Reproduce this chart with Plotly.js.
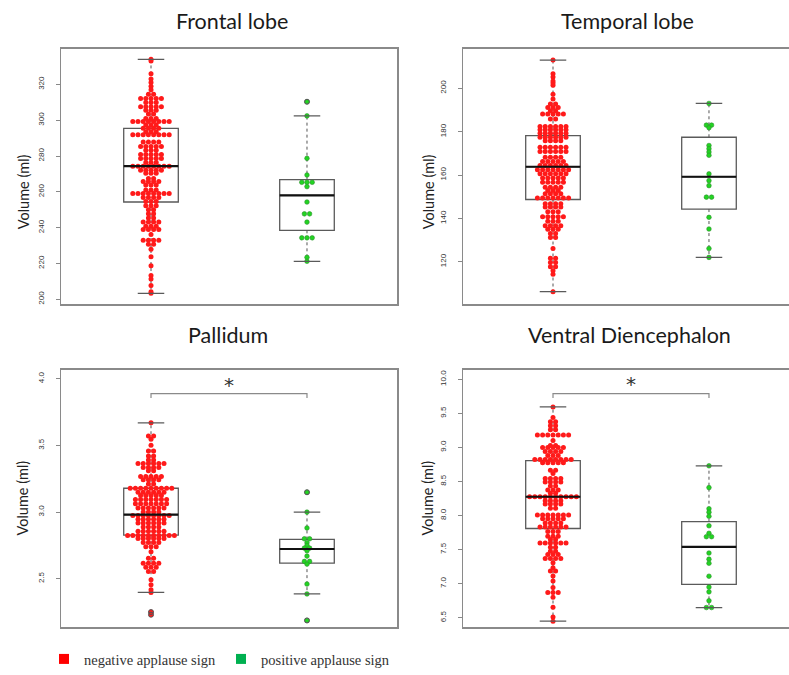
<!DOCTYPE html>
<html><head><meta charset="utf-8">
<script src="https://cdn.plot.ly/plotly-3.0.1.min.js"></script>
<style>html,body{margin:0;padding:0;background:#fff}#chart{width:789px;height:675px}</style>
</head><body><div id="chart"></div>
<script>
// ---------- data ----------
const groupNames = ['negative applause sign', 'positive applause sign'];
const panelTitles = ['Frontal lobe', 'Temporal lobe', 'Pallidum', 'Ventral Diencephalon'];

const frontalNeg = [334,333,326,323,321,319,317,314.5,314.5,312.1,312.1,312.1,312.1,312.1,309.9,309.9,309.9,
 307.5,307.5,307.5,307.5,307.5,305.6,305.6,305.6,303.4,303.4,301,301,301,
 299.2,299.2,299.2,299.2,299.2,299.2,299.2,299.2,297.3,297.3,297.3,295.5,295.5,295.5,295.5,293.6,293.6,293.6,
 291.8,291.8,291.8,291.8,291.8,291.8,291.8,291.8,287.8,287.8,287.8,287.8,285.3,285.3,285.3,285.3,285.3,
 283.2,283.2,283.2,280.8,280.8,280.8,280.8,280.8,278.6,278.6,278.6,278.6,278.6,276.4,276.4,276.4,
 274.3,274.3,274.3,274.3,274.3,274.3,274.3,274.3,272.1,272.1,272.1,272.1,272.1,270.3,270.3,270.3,267.5,267.5,
 265.7,265.7,265.7,265.7,263.8,263.8,263.8,261,261,261,259,259,259,259,259,259,259,259,
 256.8,256.8,256.8,256.8,254.6,254.6,254.6,252.2,252.2,252.2,250,250,247.8,247.8,245.4,245.4,
 243.2,243.2,243.2,243.2,240.8,240.8,240.8,239,239,239,239,236.2,232.9,232.9,232.9,232.9,230.7,230.7,
 227.9,223.7,218.7,213.2,211.3,207.7,204.2,203.3];
const frontalPos = [310.3,302.4,278.7,269.4,265.3,265.3,265.3,262.9,254.3,247.7,247.7,243.1,234.3,234.3,234.3,223.4,221.2];

const temporalNeg = [213,206.7,205.2,203.4,202.4,201.4,197.2,195,192.7,192.7,191.1,191.1,191.1,189.6,189.6,
 188.1,188.1,188.1,188.1,188.1,185.8,185.8,182.4,182.4,182.4,182.4,182.4,182.4,180.9,180.9,180.9,180.9,180.9,180.9,
 179.2,179.2,179.2,179.2,179.2,179.2,177.4,177.4,177.4,177.4,177.4,177.4,175.8,175.8,175.8,175.8,
 172.8,172.8,172.8,172.8,172.8,172.8,170.8,170.8,170.8,170.8,170.8,170.8,168.2,168.2,168.2,168.2,
 166.2,166.2,166.2,166.2,166.2,164.4,164.4,164.4,164.4,164.4,164.4,162.4,162.4,162.4,162.4,162.4,162.4,162.4,
 160.6,160.6,160.6,160.6,160.6,160.6,158.6,158.6,158.6,158.6,158.6,156.7,156.7,156.7,156.7,156.7,
 154.4,154.4,154.4,154.4,152.9,152.9,152.9,151.4,151.4,151.4,151.4,149.4,149.4,149.4,149.4,149.4,149.4,149.4,
 146.8,146.8,146.8,146.8,145.3,145.3,145.3,145.3,143,143,143,140.7,140.7,140.7,140.7,140.7,138.7,138.7,138.7,
 136.6,136.6,136.6,136.6,135,135,135,133,133,131.2,131.2,126.1,121.6,121.6,119.7,119.7,117.7,117.7,115.9,114.2,106.2];
const temporalPos = [193,183,183,181.8,173.6,172.1,170.6,169.1,160.5,157.4,155.1,149.8,149.8,140.5,135.1,126.1,122];

const pallidumNeg = [3.67,3.571,3.571,3.546,3.501,3.459,3.459,3.422,3.422,3.392,3.392,
 3.365,3.365,3.365,3.365,3.365,3.365,3.335,3.335,3.335,3.335,3.31,3.31,3.268,3.268,3.268,3.268,3.268,
 3.243,3.243,3.243,3.243,3.211,3.211,3.179,3.179,3.179,3.179,3.179,3.179,3.179,3.179,3.179,
 3.149,3.149,3.149,3.149,3.149,3.149,3.124,3.124,3.124,3.124,3.124,3.094,3.094,3.094,3.094,3.094,3.094,3.094,
 3.062,3.062,3.062,3.062,3.062,3.062,3.062,3.03,3.03,3.03,3.03,3.03,3.03,3.0,3.0,3.0,3.0,
 2.975,2.975,2.975,2.975,2.975,2.975,2.975,2.975,2.946,2.946,2.946,2.946,2.946,2.946,2.918,2.918,2.918,2.918,2.918,2.918,
 2.888,2.888,2.888,2.888,2.856,2.856,2.856,2.856,2.856,2.856,2.824,2.824,2.824,2.824,2.824,2.824,2.824,2.824,2.824,2.824,
 2.802,2.802,2.802,2.802,2.802,2.802,2.772,2.772,2.772,2.772,2.74,2.74,2.74,2.702,2.653,2.653,
 2.616,2.616,2.616,2.616,2.586,2.586,2.586,2.554,2.554,2.492,2.455,2.417,2.397,2.25,2.23];
const pallidumPos = [3.149,3.0,2.881,2.8,2.8,2.77,2.75,2.73,2.73,2.71,2.67,2.63,2.63,2.61,2.46,2.386,2.187];

const ventralNeg = [9.594,9.439,9.376,9.376,9.318,9.318,9.26,9.26,9.183,9.183,9.183,9.183,9.183,9.183,9.183,9.1,
 9.027,9.027,8.999,8.999,8.999,8.999,8.999,8.94,8.94,8.94,8.94,8.882,8.882,8.882,
 8.824,8.824,8.824,8.824,8.824,8.824,8.824,8.824,8.776,8.776,8.776,8.776,8.776,8.664,8.664,8.616,
 8.543,8.543,8.543,8.543,8.494,8.494,8.494,8.494,8.432,8.432,8.374,8.374,8.374,8.326,8.326,
 8.276,8.276,8.276,8.276,8.276,8.276,8.276,8.276,8.276,8.276,8.218,8.218,8.218,8.218,8.17,8.17,8.17,8.17,8.108,8.108,
 8.01,8.01,8.01,8.01,8.01,8.01,8.01,7.952,7.952,7.952,7.952,7.952,7.89,7.89,7.89,7.89,
 7.831,7.831,7.831,7.831,7.831,7.831,7.767,7.767,7.767,7.695,7.695,7.695,7.647,7.647,
 7.599,7.599,7.599,7.599,7.599,7.599,7.535,7.535,7.477,7.477,7.429,7.429,7.429,7.371,7.371,7.371,7.371,
 7.308,7.235,7.186,7.186,7.113,7.041,6.945,6.872,6.872,6.872,6.8,6.654,6.51,6.45];
const ventralPos = [8.73,8.41,8.1,8.05,7.99,7.85,7.74,7.69,7.69,7.45,7.36,7.3,7.11,6.95,6.88,6.75,6.65,6.65];

// box statistics: [negative, positive] per panel
const boxLower  = [[203.3,221.2],[106.2,122],[2.397,2.386],[6.45,6.65]];
const boxQ1     = [[254.3,238.5],[148.7,144.3],[2.827,2.617],[7.81,6.99]];
const boxMedian = [[274.3,258.0],[163.8,159.2],[2.981,2.723],[8.276,7.54]];
const boxQ3     = [[295.4,266.8],[178.2,177.4],[3.179,2.795],[8.806,7.91]];
const boxUpper  = [[334,302.4],[213,193],[3.67,3.0],[9.594,8.73]];
const outlierVals = [[[],[310.3]],[[],[]],[[2.25,2.23],[3.149,2.187]],[[],[]]];

// y ticks
const yTickVals = [[200,220,240,260,280,300,320],[120,140,160,180,200],[2.5,3.0,3.5,4.0],[6.5,7.0,7.5,8.0,8.5,9.0,9.5,10.0]];
const yTickText = [['200','220','240','260','280','300','320'],['120','140','160','180','200'],['2.5','3.0','3.5','4.0'],['6.5','7.0','7.5','8.0','8.5','9.0','9.5','10.0']];

// significance brackets
const sigPanels = [2, 3];
const sigLevel = [3.89, 9.79];
const sigDrop = [0.033, 0.064];
const sigStarY = [3.955, 9.93];

// ---------- build ----------
const pointValues = [[frontalNeg, frontalPos],[temporalNeg, temporalPos],[pallidumNeg, pallidumPos],[ventralNeg, ventralPos]];
const pointColors = ['#ff1a1a', '#22d422'];
const legendColors = ['#ff0000', '#00b050'];
const positions = [1, 2];
const PX_PER_X = 156;
const DX = 5.2 / PX_PER_X;
const BOXW = 0.35, CAPW = 0.085;

function swarmX(vals, pos) {
  const counts = {}, idx = {};
  vals.forEach(v => { counts[v] = (counts[v] || 0) + 1; });
  return vals.map(v => {
    const n = counts[v];
    idx[v] = (idx[v] === undefined) ? 0 : idx[v] + 1;
    return pos + (idx[v] - (n - 1) / 2) * DX;
  });
}

const axisNames = [['x','y'],['x2','y2'],['x3','y3'],['x4','y4']];
const data = [];

for (let p = 0; p < 4; p++) {
  const [xa, ya] = axisNames[p];
  for (let g = 0; g < 2; g++) {
    const pos = positions[g];
    data.push({type:'box', x:[pos], q1:[boxQ1[p][g]], median:[boxMedian[p][g]], q3:[boxQ3[p][g]],
      lowerfence:[boxQ1[p][g]], upperfence:[boxQ3[p][g]], width:BOXW, boxpoints:false,
      line:{color:'#5a5a5a', width:1.3}, fillcolor:'rgba(0,0,0,0)', whiskerwidth:0,
      xaxis:xa, yaxis:ya, showlegend:false, hoverinfo:'skip'});
    data.push({type:'scatter', mode:'lines', x:[pos,pos,null,pos,pos],
      y:[boxQ3[p][g], boxUpper[p][g], null, boxQ1[p][g], boxLower[p][g]],
      line:{color:'#555', width:1, dash:'dot'}, xaxis:xa, yaxis:ya, showlegend:false, hoverinfo:'skip'});
  }
  for (let g = 0; g < 2; g++) {
    const vals = pointValues[p][g];
    data.push({type:'scatter', mode:'markers', x:swarmX(vals, positions[g]), y:vals,
      marker:{color:pointColors[g], size:g ? 4.6 : 5, line:{width:g ? 0.6 : 0, color:'#2f8f2f'}},
      xaxis:xa, yaxis:ya, showlegend:false, name:groupNames[g]});
  }
  for (let g = 0; g < 2; g++) {
    const pos = positions[g];
    data.push({type:'scatter', mode:'lines', x:[pos-CAPW,pos+CAPW,null,pos-CAPW,pos+CAPW],
      y:[boxUpper[p][g],boxUpper[p][g],null,boxLower[p][g],boxLower[p][g]],
      line:{color:'#5a5a5a', width:1.3}, xaxis:xa, yaxis:ya, showlegend:false, hoverinfo:'skip'});
    data.push({type:'scatter', mode:'lines', x:[pos-BOXW/2, pos+BOXW/2], y:[boxMedian[p][g], boxMedian[p][g]],
      line:{color:'#111', width:2.2}, xaxis:xa, yaxis:ya, showlegend:false, hoverinfo:'skip'});
    const o = outlierVals[p][g];
    if (o.length) {
      data.push({type:'scatter', mode:'markers', x:o.map(() => pos), y:o,
        marker:{symbol:'circle-open', color:'#555', size:5, line:{width:1}},
        xaxis:xa, yaxis:ya, showlegend:false, hoverinfo:'skip'});
    }
  }
}

const annotations = [];
sigPanels.forEach((p, i) => {
  const [xa, ya] = axisNames[p];
  data.push({type:'scatter', mode:'lines', x:[positions[0],positions[0],positions[1],positions[1]],
    y:[sigLevel[i]-sigDrop[i], sigLevel[i], sigLevel[i], sigLevel[i]-sigDrop[i]],
    line:{color:'#8a8a8a', width:1.2}, xaxis:xa, yaxis:ya, showlegend:false, hoverinfo:'skip'});
  annotations.push({text:'*', x:(positions[0]+positions[1])/2, y:sigStarY[i], xref:xa, yref:ya,
    showarrow:false, font:{family:'DejaVu Sans', size:20, color:'#333'}, yanchor:'middle'});
});

for (let g = 0; g < 2; g++) {
  data.push({type:'scatter', mode:'markers', x:[null], y:[null], name:groupNames[g],
    marker:{symbol:'square', size:10, color:legendColors[g]}, xaxis:'x', yaxis:'y', showlegend:true});
}

const titleX = [232, 627, 228, 629], titleY = [21, 21, 338, 338];
panelTitles.forEach((t, i) => annotations.push({text:t, xref:'paper', yref:'paper', x:titleX[i]/789, y:1-titleY[i]/675,
  showarrow:false, xanchor:'center', yanchor:'middle', font:{family:'Lato', size:21.5, color:'#1a1a1a'}}));
const ytX = [23, 428, 23, 428], ytY = [194, 194, 503, 503];
ytX.forEach((x, i) => annotations.push({text:'Volume (ml)', xref:'paper', yref:'paper', x:x/789, y:1-ytY[i]/675,
  textangle:-90, showarrow:false, xanchor:'center', yanchor:'middle', font:{family:'Lato', size:14.5, color:'#222'}}));

const xDom = [[61/789, 397/789],[463/789, 1]];
const yDom = [[1-307/675, 1-49/675],[1-633/675, 1-373/675]];
const xRanges = [[0.423,2.577],[0.423,2.513]];
const yRanges = [[197.2,340],[100.4,218.3],[2.135,4.069],[6.359,10.141]];

const layout = {width:789, height:675, margin:{l:0,r:0,t:0,b:0}, paper_bgcolor:'#fff', plot_bgcolor:'#fff',
  font:{family:'Liberation Sans'}, annotations:annotations,
  legend:{orientation:'h', x:44/789, y:1-665/675, xanchor:'left', yanchor:'middle',
    font:{family:'Liberation Serif', size:14.5, color:'#333'}, bgcolor:'rgba(0,0,0,0)', itemclick:false},
  showlegend:true};

for (let p = 0; p < 4; p++) {
  const col = p % 2, row = Math.floor(p / 2);
  const sx = p === 0 ? '' : String(p + 1);
  layout['xaxis' + sx] = {domain:xDom[col], range:xRanges[col], showticklabels:false, ticks:'', showgrid:false,
    zeroline:false, showline:true, mirror:true, linecolor:'#8a8a8a', linewidth:1.5, anchor:'y' + sx, fixedrange:true};
  layout['yaxis' + sx] = {domain:yDom[row], range:yRanges[p], tickvals:yTickVals[p], ticktext:yTickText[p],
    tickangle:-90, ticks:'outside', ticklen:4, tickcolor:'#888', tickwidth:1, ticklabelstandoff:8,
    tickfont:{family:'Liberation Sans', size:8, color:'#333'}, showgrid:false, zeroline:false,
    showline:true, mirror:col === 0 ? true : false, linecolor:'#8a8a8a', linewidth:1.5, anchor:'x' + sx, fixedrange:true};
}

Plotly.newPlot('chart', data, layout, {displayModeBar:false, staticPlot:true});
</script></body></html>
